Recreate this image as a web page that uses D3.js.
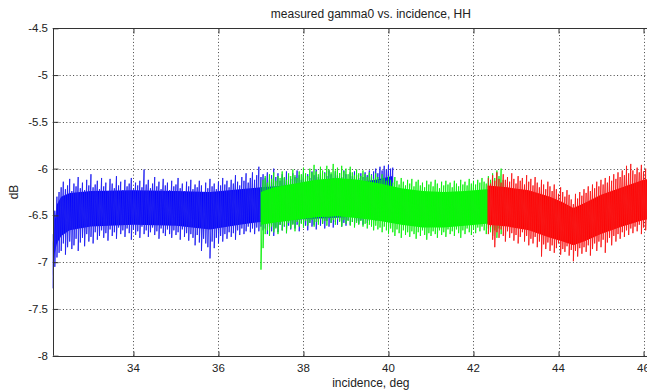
<!DOCTYPE html>
<html><head><meta charset="utf-8">
<script src="https://cdn.jsdelivr.net/npm/d3@7/dist/d3.min.js"></script>
<style>body{margin:0;background:#fff}svg{display:block}text{font-family:"Liberation Sans",Arial,Helvetica,sans-serif;fill:#222}</style>
</head><body><svg id="c" width="647" height="392"></svg>
<script>
// ---- data ----
const title = "measured gamma0 vs. incidence, HH";
const xLabel = "incidence, deg";
const yLabel = "dB";
const xTicks = [34, 36, 38, 40, 42, 44, 46];
const yTicks = [-4.5, -5, -5.5, -6, -6.5, -7, -7.5, -8];
const sampleStep = 0.05; // deg between envelope samples

// blue pass: spike envelope (max / min), from 32.10 deg
const blueStart = 32.10;
const blueHi = [-6.70,-6.45,-6.30,-6.25,
  -6.20,-6.14,-6.22,-6.18,-6.11,-6.24,-6.16,-6.19,-6.09,-6.21,
  -6.15,-6.23,-6.12,-6.18,-6.06,-6.20,-6.17,-6.13,-6.22,-6.10,
  -6.19,-6.15,-6.24,-6.11,-6.16,-6.21,-6.08,-6.18,-6.14,-6.23,
  -6.12,-6.19,-6.16,-6.10,-6.22,-6.15,-6.18,-6.13,-6.20,-6.01,
  -6.17,-6.12,-6.21,-6.16,-6.09,-6.19,-6.14,-6.22,-6.11,-6.18,
  -6.15,-6.23,-6.13,-6.19,-6.17,-6.10,-6.21,-6.16,-6.24,-6.14,
  -6.19,-6.12,-6.22,-6.17,-6.20,-6.13,-6.18,-6.25,-6.15,-6.21,
  -6.11,-6.19,-6.16,-6.22,-6.14,-6.18,-6.10,-6.17,-6.13,-6.20,
  -6.12,-6.16,-6.07,-6.14,-6.18,-6.09,-6.13,-6.05,-6.15,-6.10,
  -6.04,-6.12,-6.07,-5.98,-6.09,-6.06,
  -6.10,-6.04,-6.12,-6.07,-6.00,-6.09,-6.05,-6.13,-6.06,-6.10,
  -6.03,-6.08,-6.11,-6.05,-6.09,-6.02,-6.07,-6.12,-6.04,-6.08,
  -6.06,-6.10,-6.03,-6.07,-6.01,-6.09,-6.05,-6.11,-6.04,-6.08,
  -6.02,-6.06,-6.10,-6.03,-6.07,-6.05,-6.09,-6.02,-6.06,-6.11,
  -6.04,-6.08,-6.03,-6.07,-6.10,-6.05,-6.09,-6.04,-6.07,-6.02,
  -6.06,-6.03,-6.00,-6.05,-5.98,-6.02,-5.97,-6.01,-5.96,-6.00,
  -5.99];
const blueLo = [-7.28,-7.05,-6.95,-6.90,
  -6.88,-6.80,-6.92,-6.84,-6.78,-6.86,-6.82,-6.75,-6.88,-6.79,
  -6.74,-6.83,-6.70,-6.78,-6.73,-6.80,-6.68,-6.76,-6.72,-6.66,
  -6.74,-6.69,-6.77,-6.65,-6.72,-6.68,-6.75,-6.63,-6.70,-6.66,
  -6.73,-6.64,-6.69,-6.76,-6.65,-6.71,-6.67,-6.74,-6.62,-6.70,
  -6.66,-6.73,-6.68,-6.63,-6.71,-6.67,-6.75,-6.64,-6.69,-6.72,
  -6.65,-6.70,-6.74,-6.66,-6.71,-6.68,-6.76,-6.65,-6.73,-6.69,
  -6.77,-6.70,-6.74,-6.82,-6.71,-6.79,-6.88,-6.75,-6.80,-6.84,
  -6.96,-6.78,-6.85,-6.74,-6.80,-6.72,-6.78,-6.70,-6.75,-6.68,
  -6.73,-6.69,-6.76,-6.66,-6.71,-6.64,-6.70,-6.67,-6.62,-6.68,
  -6.64,-6.70,-6.63,-6.67,-6.62,-6.66,
  -6.64,-6.70,-6.62,-6.67,-6.72,-6.63,-6.68,-6.60,-6.66,-6.62,
  -6.69,-6.61,-6.65,-6.59,-6.64,-6.60,-6.67,-6.58,-6.63,-6.61,
  -6.66,-6.58,-6.62,-6.60,-6.65,-6.57,-6.61,-6.59,-6.64,-6.56,
  -6.62,-6.58,-6.63,-6.57,-6.60,-6.56,-6.62,-6.58,-6.61,-6.55,
  -6.60,-6.57,-6.62,-6.56,-6.59,-6.55,-6.60,-6.54,-6.58,-6.56,
  -6.55,-6.52,-6.56,-6.50,-6.53,-6.48,-6.51,-6.47,-6.49,-6.45,
  -6.44];
// blue dense band (solid part)
const blueCoreX  = [32.10, 32.15, 32.20, 32.30, 32.50, 33.0, 34.0, 35.0, 35.8, 36.5, 37.0, 38.0, 39.0, 39.7, 40.1];
const blueCoreHi = [-6.80,-6.55,-6.38,-6.30,-6.26,-6.24,-6.23,-6.24,-6.25,-6.22,-6.20,-6.17,-6.16,-6.12,-6.08];
const blueCoreLo = [-7.15,-6.90,-6.80,-6.72,-6.66,-6.62,-6.60,-6.61,-6.65,-6.60,-6.57,-6.54,-6.52,-6.48,-6.42];

// green pass, from 37.00 deg
const greenStart = 37.00;
const greenHi = [-6.20,-6.12,-6.08,-6.15,-6.06,-6.11,-6.04,-6.13,-6.08,-6.10,
  -6.03,-6.09,-6.12,-6.05,-6.08,-6.01,-6.07,-6.10,-6.03,-6.06,
  -5.99,-6.05,-6.08,-6.00,-6.04,-5.96,-6.03,-6.06,-5.98,-6.02,
  -6.05,-5.97,-6.01,-6.04,-5.95,-6.02,-5.99,-6.05,-5.97,-6.03,
  -6.00,-6.06,-5.98,-6.04,-6.07,-6.01,-6.05,-6.08,-6.02,-6.06,
  -6.09,-6.04,-6.07,-6.11,-6.05,-6.09,-6.12,-6.06,-6.10,-6.13,
  -6.08,-6.12,-6.15,-6.09,-6.13,-6.17,-6.10,-6.14,-6.18,-6.12,
  -6.16,-6.11,-6.19,-6.14,-6.12,-6.18,-6.15,-6.20,-6.13,-6.17,
  -6.14,-6.19,-6.12,-6.16,-6.21,-6.14,-6.18,-6.13,-6.17,-6.15,
  -6.20,-6.13,-6.16,-6.19,-6.12,-6.17,-6.14,-6.18,-6.11,-6.16,
  -6.13,-6.17,-6.12,-6.15,-6.10,-6.14,-6.16,-6.08,-6.12,-6.05,
  -6.10,-6.02,-6.08,-6.00,-6.12];
const greenLo = [-7.08,-6.85,-6.70,-6.66,-6.72,-6.62,-6.68,-6.64,-6.70,-6.60,
  -6.66,-6.61,-6.69,-6.58,-6.64,-6.60,-6.67,-6.57,-6.62,-6.59,
  -6.63,-6.56,-6.61,-6.58,-6.55,-6.62,-6.57,-6.60,-6.54,-6.59,
  -6.56,-6.61,-6.53,-6.58,-6.55,-6.60,-6.54,-6.57,-6.62,-6.55,
  -6.59,-6.56,-6.61,-6.57,-6.63,-6.58,-6.60,-6.56,-6.62,-6.59,
  -6.64,-6.60,-6.62,-6.66,-6.61,-6.65,-6.63,-6.68,-6.62,-6.66,
  -6.70,-6.64,-6.68,-6.72,-6.65,-6.69,-6.74,-6.66,-6.71,-6.68,
  -6.73,-6.67,-6.70,-6.75,-6.68,-6.72,-6.66,-6.71,-6.76,-6.69,
  -6.72,-6.67,-6.70,-6.74,-6.66,-6.71,-6.68,-6.73,-6.65,-6.70,
  -6.67,-6.72,-6.65,-6.69,-6.74,-6.66,-6.70,-6.64,-6.68,-6.71,
  -6.65,-6.69,-6.63,-6.67,-6.62,-6.66,-6.70,-6.64,-6.68,-6.72,
  -6.66,-6.74,-6.64,-6.70,-6.62];
const greenCoreX  = [37.0, 37.3, 37.8, 38.3, 38.8, 39.3, 39.8, 40.3, 40.8, 41.3, 41.8, 42.3, 42.7];
const greenCoreHi = [-6.25,-6.20,-6.16,-6.12,-6.10,-6.12,-6.16,-6.21,-6.24,-6.25,-6.24,-6.22,-6.22];
const greenCoreLo = [-6.60,-6.58,-6.55,-6.52,-6.51,-6.53,-6.56,-6.60,-6.63,-6.63,-6.61,-6.59,-6.59];

// red pass, from 42.35 deg
const redStart = 42.35;
const redHi = [-6.10,-6.16,-6.07,-6.13,-6.04,-6.11,-6.15,-6.06,-6.12,-6.09,
  -6.14,-6.05,-6.11,-6.16,-6.08,-6.13,-6.10,-6.17,-6.07,-6.14,
  -6.11,-6.18,-6.09,-6.15,-6.20,-6.12,-6.17,-6.22,-6.14,-6.19,
  -6.24,-6.17,-6.22,-6.27,-6.20,-6.25,-6.30,-6.23,-6.28,-6.33,
  -6.38,-6.27,-6.32,-6.25,-6.29,-6.22,-6.26,-6.19,-6.24,-6.17,
  -6.21,-6.14,-6.19,-6.12,-6.17,-6.10,-6.15,-6.08,-6.13,-6.06,
  -6.11,-6.04,-6.09,-6.02,-6.07,-5.97,-6.05,-5.95,-6.02,-6.06,
  -5.99,-6.04,-5.96,-6.03,-6.00,-6.05,-6.01,-6.04];
const redLo = [-6.70,-6.62,-6.76,-6.84,-6.68,-6.74,-6.65,-6.72,-6.78,-6.67,
  -6.74,-6.69,-6.77,-6.71,-6.80,-6.73,-6.68,-6.78,-6.72,-6.82,
  -6.75,-6.80,-6.73,-6.84,-6.78,-6.94,-6.81,-6.86,-6.79,-6.88,
  -6.82,-6.90,-6.85,-6.80,-6.92,-6.86,-6.89,-6.83,-6.93,-6.87,
  -6.99,-6.88,-6.94,-6.85,-6.91,-6.84,-6.89,-6.82,-6.93,-6.86,
  -6.80,-6.88,-6.78,-6.84,-6.76,-6.90,-6.79,-6.74,-6.82,-6.72,
  -6.78,-6.70,-6.75,-6.68,-6.73,-6.66,-6.71,-6.64,-6.69,-6.62,
  -6.67,-6.60,-6.70,-6.63,-6.66,-6.59,-6.64,-6.61];
const redCoreX  = [42.33, 42.8, 43.3, 43.8, 44.1, 44.35, 44.6, 45.0, 45.5, 46.0, 46.3];
const redCoreHi = [-6.18,-6.20,-6.23,-6.30,-6.36,-6.42,-6.37,-6.28,-6.20,-6.12,-6.10];
const redCoreLo = [-6.60,-6.62,-6.66,-6.74,-6.78,-6.82,-6.78,-6.70,-6.62,-6.55,-6.53];

// ---- chart ----
const svg = d3.select("#c");
const L = 52.7, R = 689, T = 28.3, B = 355.7;
const x = d3.scaleLinear().domain([32.1, 47.07]).range([L, R]);
const y = d3.scaleLinear().domain([-8, -4.5]).range([B, T]);
const axisCol = "#333";

svg.append("defs").append("clipPath").attr("id","pc")
  .append("rect").attr("x",L).attr("y",T).attr("width",R-L).attr("height",B-T);

// grid
const grid = svg.append("g").attr("stroke","#444").attr("stroke-width",1)
  .attr("stroke-dasharray","1,2.4");
grid.selectAll(".gx").data(xTicks).join("line")
  .attr("x1",d=>Math.round(x(d))+0.5).attr("x2",d=>Math.round(x(d))+0.5)
  .attr("y1",T).attr("y2",B);
grid.selectAll(".gy").data(yTicks.filter(v=>v>-8&&v<-4.5)).join("line")
  .attr("y1",d=>Math.round(y(d))+0.5).attr("y2",d=>Math.round(y(d))+0.5)
  .attr("x1",L).attr("x2",R);

// data
const plot = svg.append("g").attr("clip-path","url(#pc)");
function drawSeries(color, spikeColor, start, hi, lo, cx, chi, clo){
  const area = d3.area().x(d=>x(d[0])).y0(d=>y(d[2])).y1(d=>y(d[1]));
  plot.append("path").datum(cx.map((v,i)=>[v,chi[i],clo[i]]))
    .attr("d",area).attr("fill",color);
  const pts = [];
  hi.forEach((h,i)=>{ const xv = start + i*sampleStep; pts.push([xv,h]); pts.push([xv,lo[i]]); });
  plot.append("path").datum(pts)
    .attr("d",d3.line().x(d=>x(d[0])).y(d=>y(d[1])))
    .attr("fill","none").attr("stroke",spikeColor).attr("stroke-width",0.9);
}
drawSeries("#0000ff", "#2020f0", blueStart, blueHi, blueLo, blueCoreX, blueCoreHi, blueCoreLo);
drawSeries("#00ff00", "#10f010", greenStart, greenHi, greenLo, greenCoreX, greenCoreHi, greenCoreLo);
drawSeries("#ff0000", "#f81818", redStart, redHi, redLo, redCoreX, redCoreHi, redCoreLo);

// axes box
const ax = svg.append("g").attr("stroke",axisCol).attr("stroke-width",1);
ax.append("line").attr("x1",L).attr("x2",R).attr("y1",Math.round(T)+0.5).attr("y2",Math.round(T)+0.5);
ax.append("line").attr("x1",L).attr("x2",R).attr("y1",Math.round(B)+0.5).attr("y2",Math.round(B)+0.5);
ax.append("line").attr("x1",Math.round(L)+0.5).attr("x2",Math.round(L)+0.5).attr("y1",T).attr("y2",B);

// ticks via d3 axes (inward)
const xb = svg.append("g").attr("transform",`translate(0,${Math.round(B)+0.5})`)
  .call(d3.axisTop(x).tickValues(xTicks).tickSize(5).tickFormat(""));
const xt = svg.append("g").attr("transform",`translate(0,${Math.round(T)+0.5})`)
  .call(d3.axisBottom(x).tickValues(xTicks).tickSize(5).tickFormat(""));
const yl = svg.append("g").attr("transform",`translate(${Math.round(L)+0.5},0)`)
  .call(d3.axisRight(y).tickValues(yTicks).tickSize(5).tickFormat(""));
[xb,xt,yl].forEach(g=>{ g.select(".domain").remove(); g.selectAll("line").attr("stroke",axisCol); });

// tick labels
svg.append("g").selectAll("text").data(xTicks).join("text")
  .attr("x",d=>x(d)).attr("y",371.5).attr("text-anchor","middle")
  .attr("font-size",11.5).text(d=>d);
svg.append("g").selectAll("text").data(yTicks).join("text")
  .attr("x",48).attr("y",d=>y(d)+4).attr("text-anchor","end")
  .attr("font-size",11.5).text(d=>d);

// labels
svg.append("text").attr("x",(L+R)/2).attr("y",18).attr("text-anchor","middle")
  .attr("font-size",12).text(title);
svg.append("text").attr("x",(L+R)/2).attr("y",386.5).attr("text-anchor","middle")
  .attr("font-size",12).text(xLabel);
svg.append("text").attr("transform",`translate(18,${(T+B)/2}) rotate(-90)`)
  .attr("text-anchor","middle").attr("font-size",12).text(yLabel);
</script></body></html>
